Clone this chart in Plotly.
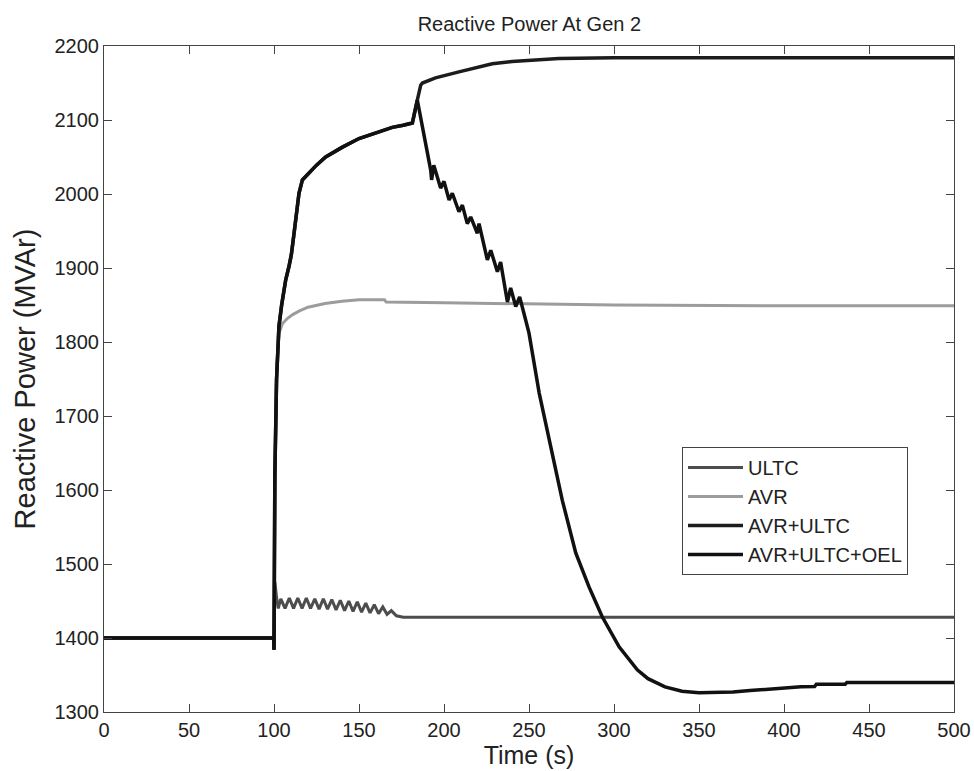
import plotly.graph_objects as go

# ---------------- data ----------------
ultc_t = [0, 99.9, 100.0, 100.5, 101.5, 102.5, 104, 106.5, 109, 111.5, 114, 116.5, 119, 121.5,
          124, 126.5, 129, 131.5, 134, 136.5, 139, 141.5, 144, 146.5, 149, 151.5, 154, 156.5,
          159, 161.5, 164, 166.5, 169, 172, 176, 200, 300, 400, 500]
ultc_q = [1400, 1400, 1384, 1476, 1455, 1440, 1453, 1440, 1454, 1440, 1454, 1440, 1454, 1440,
          1453, 1439, 1453, 1439, 1452, 1438, 1451, 1437, 1450, 1436, 1449, 1435, 1447, 1434,
          1445, 1433, 1442, 1432, 1437, 1430, 1428, 1428, 1428, 1428, 1428]

avr_t = [0, 99.9, 100.0, 100.5, 101.5, 103, 105, 108, 111, 115, 120, 125, 130, 140, 150, 165,
         166, 200, 250, 300, 400, 500]
avr_q = [1400, 1400, 1384, 1600, 1760, 1812, 1825, 1832, 1837, 1842, 1847, 1850, 1852, 1855,
         1857, 1857, 1854, 1853, 1851, 1850, 1849, 1849]

avr_ultc_t = [0, 99.9, 100.0, 100.5, 101.5, 102.9, 104.5, 105.9, 106.9, 108.8, 110.2, 111.8,
              113.7, 114.7, 116.7, 120, 125, 130.4, 140, 150, 160, 169.6, 176, 181.4, 184.3,
              186.3, 187.3, 195, 208.8, 220, 228.4, 240, 252, 267.6, 300, 400, 500]
avr_ultc_q = [1400, 1400, 1384, 1620, 1749, 1821, 1850, 1875, 1884, 1902, 1918, 1947,
              1978, 2001, 2019, 2027, 2039, 2050, 2063, 2075, 2083, 2090, 2093, 2096, 2127,
              2147, 2150, 2157, 2165, 2171, 2176, 2179, 2181, 2183, 2184, 2184, 2184]

oel_t = [0, 99.9, 100.0, 100.5, 101.5, 102.9, 104.5, 105.9, 106.9, 108.8, 110.2, 111.8,
         113.7, 114.7, 116.7, 120, 125, 130.4, 140, 150, 160, 169.6, 176, 181.4, 184.3,
         192.2, 192.7, 194, 198, 200, 203, 204.9, 208.8, 210.8, 213.7, 215.7, 219.6, 220.6,
         225.5, 227.5, 231.4, 233.3, 237.3, 239.2, 242.2, 244.5, 248, 250, 256, 261.8, 269.6,
         277.5, 285.3, 293, 303, 313.7, 320, 330, 340, 350, 360, 370, 380, 390, 400, 410,
         418, 419, 436, 437, 500]
oel_q = [1400, 1400, 1384, 1620, 1749, 1821, 1850, 1875, 1884, 1902, 1918, 1947,
         1978, 2001, 2019, 2027, 2039, 2050, 2063, 2075, 2083, 2090, 2093, 2096, 2127,
         2032, 2019, 2039, 2008, 2017, 1992, 2001, 1976, 1985, 1960, 1969, 1947, 1960,
         1911, 1924, 1895, 1908, 1854, 1873, 1848, 1861, 1830, 1812, 1731, 1668, 1586,
         1515, 1469, 1429, 1388, 1357, 1345, 1334, 1328, 1326, 1326, 1327, 1329, 1331, 1333, 1334,
         1334.5, 1337.5, 1337.5, 1340, 1340]

series_names = ["ULTC", "AVR", "AVR+ULTC", "AVR+ULTC+OEL"]
series_colors = ["#4d4d4d", "#9c9c9c", "#1c1c1c", "#111111"]
series_widths = [3, 3, 3.5, 3.5]

x_ticks = [0, 50, 100, 150, 200, 250, 300, 350, 400, 450, 500]
y_ticks = [1300, 1400, 1500, 1600, 1700, 1800, 1900, 2000, 2100, 2200]

FONT = "Liberation Sans, Arial, sans-serif"

fig = go.Figure()
for name, tx, qy, col, w in zip(series_names,
                                [ultc_t, avr_t, avr_ultc_t, oel_t],
                                [ultc_q, avr_q, avr_ultc_q, oel_q],
                                series_colors, series_widths):
    fig.add_trace(go.Scatter(x=tx, y=qy, mode="lines", name=name,
                             line=dict(color=col, width=w)))

fig.update_layout(
    width=974, height=771,
    margin=dict(l=104, r=20, t=46, b=59),
    paper_bgcolor="white", plot_bgcolor="white",
    font=dict(family=FONT, color="#222222", size=20),
    title=dict(text="Reactive Power At Gen 2", x=0.5435, xanchor="center",
               y=1 - 24 / 771, yref="container", yanchor="middle",
               font=dict(size=20, color="#222222")),
    showlegend=True,
    legend=dict(x=0.68, y=0.398, xanchor="left", yanchor="top",
                bgcolor="white", bordercolor="#444444", borderwidth=1,
                font=dict(size=20, color="#222222"), tracegroupgap=0,
                itemwidth=55),
)
fig.update_xaxes(range=[0, 500], tickvals=x_ticks, ticks="inside", ticklen=8,
                 tickcolor="#444444", showline=True, linecolor="#444444", linewidth=1,
                 mirror="ticks", showgrid=False, zeroline=False, automargin=False,
                 title=dict(text="Time (s)", standoff=2, font=dict(size=25)),
                 tickfont=dict(size=20))
fig.update_yaxes(range=[1300, 2200], tickvals=y_ticks, ticks="inside", ticklen=8,
                 tickcolor="#444444", showline=True, linecolor="#444444", linewidth=1,
                 mirror="ticks", showgrid=False, zeroline=False, automargin=False,
                 title=dict(text="Reactive Power (MVAr)", standoff=10, font=dict(size=29)),
                 tickfont=dict(size=20))

fig.write_html("out.html")
